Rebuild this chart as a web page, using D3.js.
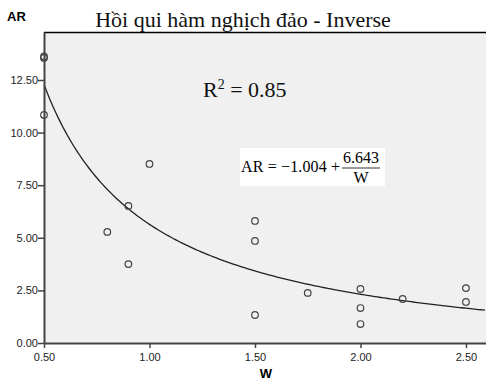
<!DOCTYPE html>
<html>
<head>
<meta charset="utf-8">
<script src="https://cdn.jsdelivr.net/npm/d3@7"></script>
<style>
  body { margin: 0; background: #fff; }
  svg { display: block; }
</style>
</head>
<body>
<svg id="chart" width="486" height="382"></svg>
<script>
// data
const wValues  = [0.50, 0.50, 0.50, 0.80, 0.90, 0.90, 1.00, 1.50, 1.50, 1.50, 1.75, 2.00, 2.00, 2.00, 2.20, 2.50, 2.50];
const arValues = [13.62, 13.55, 10.84, 5.28, 6.51, 3.75, 8.51, 5.80, 4.85, 1.33, 2.38, 2.57, 1.66, 0.90, 2.09, 2.61, 1.95];
const xTicks = [0.5, 1.0, 1.5, 2.0, 2.5];
const yTicks = [0, 2.5, 5, 7.5, 10, 12.5];
const b0 = -1.004, b1 = 6.643;

const margin = {left: 44, right: 0, top: 32, bottom: 39};
const svg = d3.select("#chart");
const TOTAL_WIDTH = 486, TOTAL_HEIGHT = 382;
const width = TOTAL_WIDTH - margin.left - margin.right;
const height = TOTAL_HEIGHT - margin.top - margin.bottom;

const xScale = d3.scaleLinear().domain([0.5, 2.595]).range([0, width]);
const yScale = d3.scaleLinear().domain([0, 14.78]).range([height, 0]);

const g = svg.append("g")
    .attr("transform", `translate(${margin.left}, ${margin.top})`);

g.append("rect")
    .attr("width", width).attr("height", height)
    .attr("fill", "#f0f0f0");

g.append("line")
    .attr("x1", 0).attr("x2", width).attr("y1", 0.5).attr("y2", 0.5)
    .attr("stroke", "#000").attr("stroke-width", 1.5);

// fitted inverse curve
const curveX = d3.range(0.5, 2.6, 0.01);
g.append("path")
    .datum(curveX)
    .attr("fill", "none")
    .attr("stroke", "#222")
    .attr("stroke-width", 1.3)
    .attr("d", d3.line()
        .x(d => xScale(d))
        .y(d => yScale(b0 + b1 / d)));

// points
g.selectAll("circle.pt")
    .data(wValues.map((w, i) => [w, arValues[i]]))
    .join("circle")
    .attr("class", "pt")
    .attr("cx", d => xScale(d[0]))
    .attr("cy", d => yScale(d[1]))
    .attr("r", 3.3)
    .attr("fill", "none")
    .attr("stroke", "#444")
    .attr("stroke-width", 1.2);

// axes
const xAxis = d3.axisBottom(xScale).tickValues(xTicks).tickFormat(d3.format(".2f"))
    .tickSize(5).tickSizeOuter(0);
const yAxis = d3.axisLeft(yScale).tickValues(yTicks).tickFormat(d3.format(".2f"))
    .tickSize(6).tickSizeOuter(0);

const xg = g.append("g").attr("transform", `translate(0, ${height})`).call(xAxis);
const yg = g.append("g").call(yAxis);
[xg, yg].forEach(a => {
    a.select(".domain").attr("stroke", "#444").attr("stroke-width", 2);
    a.selectAll(".tick line").attr("stroke", "#444").attr("stroke-width", 1.5);
    a.selectAll(".tick text")
        .attr("fill", "#222")
        .style("font-family", "Liberation Sans, Arial, sans-serif")
        .style("font-size", "11px");
});
xg.selectAll(".tick text").attr("dy", "0.95em");
yg.selectAll(".tick text").attr("x", -6);

// title and labels
svg.append("text")
    .text("Hồi qui hàm nghịch đảo - Inverse")
    .attr("x", 243).attr("y", 27)
    .attr("text-anchor", "middle")
    .style("font-family", "Liberation Serif, Times New Roman, serif")
    .style("font-size", "22px")
    .attr("fill", "#111");

svg.append("text")
    .text("AR")
    .attr("x", 7).attr("y", 21)
    .style("font-family", "Liberation Sans, Arial, sans-serif")
    .style("font-weight", "bold")
    .style("font-size", "13px");

svg.append("text")
    .text("W")
    .attr("x", 266).attr("y", 378)
    .attr("text-anchor", "middle")
    .style("font-family", "Liberation Sans, Arial, sans-serif")
    .style("font-weight", "bold")
    .style("font-size", "13px");

// R squared
const r2 = svg.append("text")
    .attr("x", 203).attr("y", 97)
    .style("font-family", "Liberation Serif, Times New Roman, serif")
    .style("font-size", "22px")
    .attr("fill", "#111");
r2.append("tspan").text("R");
r2.append("tspan").text("2").attr("dy", -8).style("font-size", "14px");
r2.append("tspan").text(" = 0.85").attr("dy", 8);

// equation box
const eq = svg.append("g").attr("transform", "translate(240, 148)");
eq.append("rect").attr("width", 145).attr("height", 38).attr("fill", "#fff");
const serif = "Liberation Serif, Times New Roman, serif";
eq.append("text").text("AR = \u22121.004 +")
    .attr("x", 1).attr("y", 24)
    .attr("textLength", 99)
    .style("font-family", serif).style("font-size", "16px");
eq.append("text").text("6.643")
    .attr("x", 121).attr("y", 15).attr("text-anchor", "middle")
    .style("font-family", serif).style("font-size", "16px");
eq.append("line").attr("x1", 102).attr("x2", 140).attr("y1", 20).attr("y2", 20)
    .attr("stroke", "#000").attr("stroke-width", 0.8);
eq.append("text").text("W")
    .attr("x", 121).attr("y", 35).attr("text-anchor", "middle")
    .style("font-family", serif).style("font-size", "16px");
</script>
</body>
</html>
